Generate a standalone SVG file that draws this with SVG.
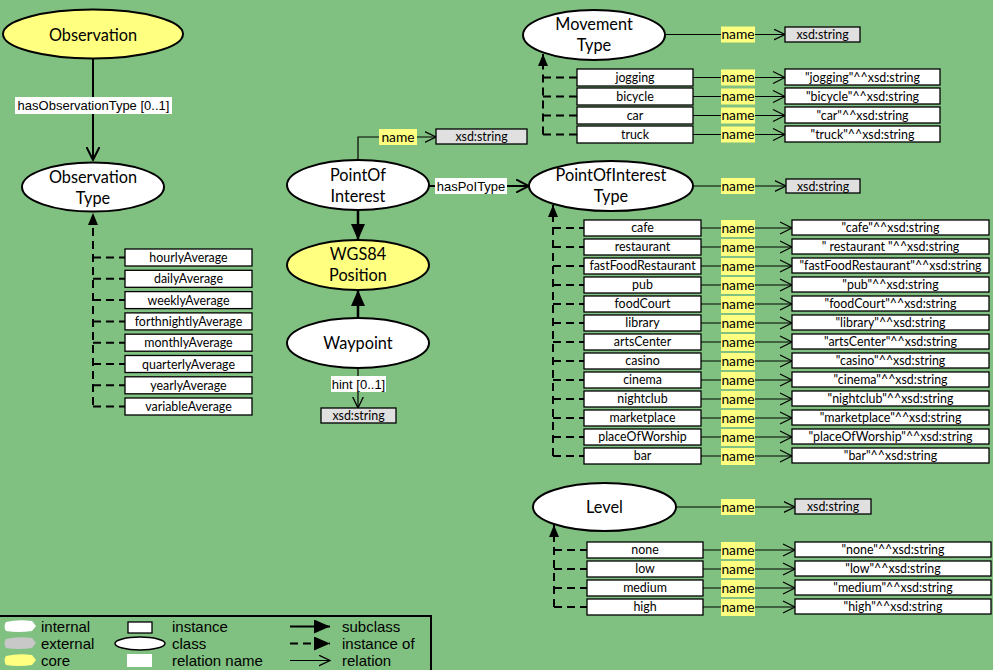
<svg xmlns="http://www.w3.org/2000/svg" width="993" height="670" viewBox="0 0 993 670">
<style>
.bg{fill:#80C080}
.cls{fill:#fff;stroke:#000;stroke-width:2}
.core{fill:#FFFF80;stroke:#000;stroke-width:2}
.inst{fill:#fff;stroke:#000;stroke-width:1.3}
.ext{fill:#E0E0E0;stroke:#000;stroke-width:1.3}
.nm{fill:#FFFF80}
.rl{fill:#fff}
.t{font-family:Lato,"Noto Sans",sans-serif;fill:#000;text-anchor:middle}
.tn{font-size:16.3px}
.ti{font-size:12.4px}
.tl{font-size:13.8px}
.ta{font-family:"Liberation Sans",Arial,sans-serif;font-size:13px;text-anchor:middle;fill:#000}
.lg{font-family:"Liberation Sans",Arial,sans-serif;font-size:15px;fill:#000}
.rel{fill:none;stroke:#000;stroke-width:1.2}
.relb{fill:none;stroke:#000;stroke-width:2}
.sub{fill:none;stroke:#000;stroke-width:2.5}
.io{fill:none;stroke:#000;stroke-width:2;stroke-dasharray:8 5}
</style>
<defs>
<marker id="open" viewBox="0 0 12 12" refX="11.5" refY="6" markerWidth="12" markerHeight="12" markerUnits="userSpaceOnUse" orient="auto"><path d="M0,0.5 L11.5,6 L0,11.5" fill="none" stroke="#000" stroke-width="1.3"/></marker>
<marker id="openb" viewBox="0 0 14 14" refX="13" refY="7" markerWidth="14" markerHeight="14" markerUnits="userSpaceOnUse" orient="auto"><path d="M0,0.5 L13,7 L0,13.5" fill="none" stroke="#000" stroke-width="2"/></marker>
<marker id="fill" viewBox="0 0 16 14" refX="16" refY="7" markerWidth="16" markerHeight="14" markerUnits="userSpaceOnUse" orient="auto"><path d="M0,0 L16,7 L0,14 Z" fill="#000"/></marker>
<marker id="fills" viewBox="0 0 12 10" refX="12" refY="5" markerWidth="12" markerHeight="10" markerUnits="userSpaceOnUse" orient="auto"><path d="M0,0 L12,5 L0,10 Z" fill="#000"/></marker>
</defs>
<rect class="bg" x="0" y="0" width="993" height="670"/>

<g id="connectors">
<path class="relb" d="M93,59 V160" marker-end="url(#openb)"/>
<path class="io" d="M93,405 V213" marker-end="url(#fills)"/>
<path class="io" d="M93,257.5 H125 M93,278.8 H125 M93,300.1 H125 M93,321.4 H125 M93,342.7 H125 M93,364 H125 M93,385.3 H125 M93,406.5 H125"/>
<path class="rel" d="M358,160 V137 H436" marker-end="url(#open)"/>
<path class="relb" d="M429,186 H529" marker-end="url(#openb)"/>
<path class="sub" d="M358,210 V240" marker-end="url(#fill)"/>
<path class="sub" d="M358,318 V290" marker-end="url(#fill)"/>
<path class="rel" d="M358,368 V408" marker-end="url(#open)"/>
<path class="rel" d="M665,34.5 H785" marker-end="url(#open)"/>
<path class="io" d="M543,134.5 V54" marker-end="url(#fills)"/>
<path class="io" d="M543,77.5 H577 M543,96.5 H577 M543,115.5 H577 M543,134.5 H577"/>
<path class="rel" d="M693,77.5 H785 M693,96.5 H785 M693,115.5 H785 M693,134.5 H785"/>
<path class="rel" d="M773,71.5 L785,77.5 L773,83.5 M773,90.5 L785,96.5 L773,102.5 M773,109.5 L785,115.5 L773,121.5 M773,128.5 L785,134.5 L773,140.5"/>
<path class="rel" d="M693,186 H786" marker-end="url(#open)"/>
<path class="io" d="M553,456 V205" marker-end="url(#fills)"/>
<path class="io" d="M553,228 H584 M553,247 H584 M553,266 H584 M553,285 H584 M553,304 H584 M553,323 H584 M553,342 H584 M553,361 H584 M553,380 H584 M553,399 H584 M553,418 H584 M553,437 H584 M553,456 H584"/>
<path class="rel" d="M701,228 H792 M701,247 H792 M701,266 H792 M701,285 H792 M701,304 H792 M701,323 H792 M701,342 H792 M701,361 H792 M701,380 H792 M701,399 H792 M701,418 H792 M701,437 H792 M701,456 H792"/>
<path class="rel" d="M780,222 L792,228 L780,234 M780,241 L792,247 L780,253 M780,260 L792,266 L780,272 M780,279 L792,285 L780,291 M780,298 L792,304 L780,310 M780,317 L792,323 L780,329 M780,336 L792,342 L780,348 M780,355 L792,361 L780,367 M780,374 L792,380 L780,386 M780,393 L792,399 L780,405 M780,412 L792,418 L780,424 M780,431 L792,437 L780,443 M780,450 L792,456 L780,462"/>
<path class="rel" d="M676,507 H795" marker-end="url(#open)"/>
<path class="io" d="M554,607 V525" marker-end="url(#fills)"/>
<path class="io" d="M554,550 H587 M554,569 H587 M554,588 H587 M554,607 H587"/>
<path class="rel" d="M703,550 H795 M703,569 H795 M703,588 H795 M703,607 H795"/>
<path class="rel" d="M783,544 L795,550 L783,556 M783,563 L795,569 L783,575 M783,582 L795,588 L783,594 M783,601 L795,607 L783,613"/>
</g>

<g id="labels">
<rect class="rl" x="15" y="97" width="157" height="17"/>
<text class="ta" x="93.5" y="110">hasObservationType [0..1]</text>
<rect class="rl" x="435" y="178" width="72" height="16"/>
<text class="ta" x="471" y="190.5">hasPoIType</text>
<rect class="rl" x="331" y="376" width="55" height="16"/>
<text class="ta" x="358.5" y="388.5">hint [0..1]</text>
<rect class="nm" x="379" y="129" width="38" height="16"/>
<text class="t tl" x="398" y="141.5">name</text>
<g id="nmlabels">
<rect class="nm" x="721" y="26.5" width="34" height="16"/><text class="t tl" x="738" y="39">name</text>
<rect class="nm" x="721" y="178" width="34" height="16"/><text class="t tl" x="738" y="190.5">name</text>
<rect class="nm" x="721" y="499" width="34" height="16"/><text class="t tl" x="738" y="511.5">name</text>
</g>
</g>

<g id="Observation"><ellipse class="core" cx="93" cy="34" rx="90" ry="24.5"/><text class="t tn" x="93" y="40.5">Observation</text></g>
<g id="ObservationType"><ellipse class="cls" cx="93" cy="187" rx="71" ry="24.5"/><text class="t tn" x="93" y="183">Observation</text><text class="t tn" x="93" y="204">Type</text></g>
<g id="ObservationTypeInstances">
<rect class="inst" x="125" y="249" width="127" height="17"/><text class="t ti" x="188.5" y="262">hourlyAverage</text>
<rect class="inst" x="125" y="270.3" width="127" height="17"/><text class="t ti" x="188.5" y="283.3">dailyAverage</text>
<rect class="inst" x="125" y="291.6" width="127" height="17"/><text class="t ti" x="188.5" y="304.6">weeklyAverage</text>
<rect class="inst" x="125" y="312.9" width="127" height="17"/><text class="t ti" x="188.5" y="325.9">forthnightlyAverage</text>
<rect class="inst" x="125" y="334.2" width="127" height="17"/><text class="t ti" x="188.5" y="347.2">monthlyAverage</text>
<rect class="inst" x="125" y="355.5" width="127" height="17"/><text class="t ti" x="188.5" y="368.5">quarterlyAverage</text>
<rect class="inst" x="125" y="376.8" width="127" height="17"/><text class="t ti" x="188.5" y="389.8">yearlyAverage</text>
<rect class="inst" x="125" y="398" width="127" height="17"/><text class="t ti" x="188.5" y="411">variableAverage</text>
</g>

<g id="PointOfInterest"><ellipse class="cls" cx="358" cy="185" rx="71" ry="25"/><text class="t tn" x="358" y="181">PointOf</text><text class="t tn" x="358" y="202">Interest</text></g>
<g id="PoIName"><rect class="ext" x="436" y="129" width="91" height="15"/><text class="t ti" x="481.5" y="141">xsd:string</text></g>
<g id="WGS84Position"><ellipse class="core" cx="358" cy="265" rx="71" ry="25"/><text class="t tn" x="358" y="260">WGS84</text><text class="t tn" x="358" y="281">Position</text></g>
<g id="Waypoint"><ellipse class="cls" cx="358" cy="343" rx="71" ry="25"/><text class="t tn" x="358" y="348.5">Waypoint</text></g>
<g id="WaypointHint"><rect class="ext" x="321" y="408" width="75" height="15"/><text class="t ti" x="358.5" y="420">xsd:string</text></g>

<g id="MovementType"><ellipse class="cls" cx="594" cy="35" rx="71" ry="25"/><text class="t tn" x="594" y="30">Movement</text><text class="t tn" x="594" y="51">Type</text>
<rect class="ext" x="785" y="27" width="75" height="15"/><text class="t ti" x="822.5" y="39">xsd:string</text></g>
<g id="MovementTypeInstances">
<rect class="inst" x="577" y="69" width="116" height="17"/><text class="t ti" x="635" y="82">jogging</text>
<rect class="inst" x="577" y="88" width="116" height="17"/><text class="t ti" x="635" y="101">bicycle</text>
<rect class="inst" x="577" y="107" width="116" height="17"/><text class="t ti" x="635" y="120">car</text>
<rect class="inst" x="577" y="126" width="116" height="17"/><text class="t ti" x="635" y="139">truck</text>
<rect class="nm" x="721" y="69.5" width="34" height="16"/><text class="t tl" x="738" y="82">name</text>
<rect class="nm" x="721" y="88.5" width="34" height="16"/><text class="t tl" x="738" y="101">name</text>
<rect class="nm" x="721" y="107.5" width="34" height="16"/><text class="t tl" x="738" y="120">name</text>
<rect class="nm" x="721" y="126.5" width="34" height="16"/><text class="t tl" x="738" y="139">name</text>
<rect class="inst" x="785" y="69" width="155" height="16"/><text class="t ti" x="862.5" y="81.5">"jogging"^^xsd:string</text>
<rect class="inst" x="785" y="88" width="155" height="16"/><text class="t ti" x="862.5" y="100.5">"bicycle"^^xsd:string</text>
<rect class="inst" x="785" y="107" width="155" height="16"/><text class="t ti" x="862.5" y="119.5">"car"^^xsd:string</text>
<rect class="inst" x="785" y="126" width="155" height="16"/><text class="t ti" x="862.5" y="138.5">"truck"^^xsd:string</text>
</g>

<g id="PointOfInterestType"><ellipse class="cls" cx="611" cy="186" rx="82" ry="25"/><text class="t tn" x="611" y="181">PointOfInterest</text><text class="t tn" x="611" y="202">Type</text>
<rect class="ext" x="786" y="179" width="74" height="14"/><text class="t ti" x="823" y="190.5">xsd:string</text></g>
<g id="PointOfInterestTypeInstances">
<rect class="inst" x="584" y="220" width="117" height="16"/><text class="t ti" x="642.5" y="232">cafe</text>
<rect class="inst" x="584" y="239" width="117" height="16"/><text class="t ti" x="642.5" y="251">restaurant</text>
<rect class="inst" x="584" y="258" width="117" height="16"/><text class="t ti" x="642.5" y="270">fastFoodRestaurant</text>
<rect class="inst" x="584" y="277" width="117" height="16"/><text class="t ti" x="642.5" y="289">pub</text>
<rect class="inst" x="584" y="296" width="117" height="16"/><text class="t ti" x="642.5" y="308">foodCourt</text>
<rect class="inst" x="584" y="315" width="117" height="16"/><text class="t ti" x="642.5" y="327">library</text>
<rect class="inst" x="584" y="334" width="117" height="16"/><text class="t ti" x="642.5" y="346">artsCenter</text>
<rect class="inst" x="584" y="353" width="117" height="16"/><text class="t ti" x="642.5" y="365">casino</text>
<rect class="inst" x="584" y="372" width="117" height="16"/><text class="t ti" x="642.5" y="384">cinema</text>
<rect class="inst" x="584" y="391" width="117" height="16"/><text class="t ti" x="642.5" y="403">nightclub</text>
<rect class="inst" x="584" y="410" width="117" height="16"/><text class="t ti" x="642.5" y="422">marketplace</text>
<rect class="inst" x="584" y="429" width="117" height="16"/><text class="t ti" x="642.5" y="441">placeOfWorship</text>
<rect class="inst" x="584" y="448" width="117" height="16"/><text class="t ti" x="642.5" y="460">bar</text>
<rect class="nm" x="721" y="220" width="34" height="17"/><text class="t tl" x="738" y="233">name</text>
<rect class="nm" x="721" y="239" width="34" height="17"/><text class="t tl" x="738" y="252">name</text>
<rect class="nm" x="721" y="258" width="34" height="17"/><text class="t tl" x="738" y="271">name</text>
<rect class="nm" x="721" y="277" width="34" height="17"/><text class="t tl" x="738" y="290">name</text>
<rect class="nm" x="721" y="296" width="34" height="17"/><text class="t tl" x="738" y="309">name</text>
<rect class="nm" x="721" y="315" width="34" height="17"/><text class="t tl" x="738" y="328">name</text>
<rect class="nm" x="721" y="334" width="34" height="17"/><text class="t tl" x="738" y="347">name</text>
<rect class="nm" x="721" y="353" width="34" height="17"/><text class="t tl" x="738" y="366">name</text>
<rect class="nm" x="721" y="372" width="34" height="17"/><text class="t tl" x="738" y="385">name</text>
<rect class="nm" x="721" y="391" width="34" height="17"/><text class="t tl" x="738" y="404">name</text>
<rect class="nm" x="721" y="410" width="34" height="17"/><text class="t tl" x="738" y="423">name</text>
<rect class="nm" x="721" y="429" width="34" height="17"/><text class="t tl" x="738" y="442">name</text>
<rect class="nm" x="721" y="448" width="34" height="17"/><text class="t tl" x="738" y="461">name</text>
<rect class="inst" x="792" y="220" width="197" height="15"/><text class="t ti" x="890.5" y="232">"cafe"^^xsd:string</text>
<rect class="inst" x="792" y="239" width="197" height="15"/><text class="t ti" x="890.5" y="251">" restaurant "^^xsd:string</text>
<rect class="inst" x="792" y="258" width="197" height="15"/><text class="t ti" x="890.5" y="270">"fastFoodRestaurant"^^xsd:string</text>
<rect class="inst" x="792" y="277" width="197" height="15"/><text class="t ti" x="890.5" y="289">"pub"^^xsd:string</text>
<rect class="inst" x="792" y="296" width="197" height="15"/><text class="t ti" x="890.5" y="308">"foodCourt"^^xsd:string</text>
<rect class="inst" x="792" y="315" width="197" height="15"/><text class="t ti" x="890.5" y="327">"library"^^xsd:string</text>
<rect class="inst" x="792" y="334" width="197" height="15"/><text class="t ti" x="890.5" y="346">"artsCenter"^^xsd:string</text>
<rect class="inst" x="792" y="353" width="197" height="15"/><text class="t ti" x="890.5" y="365">"casino"^^xsd:string</text>
<rect class="inst" x="792" y="372" width="197" height="15"/><text class="t ti" x="890.5" y="384">"cinema"^^xsd:string</text>
<rect class="inst" x="792" y="391" width="197" height="15"/><text class="t ti" x="890.5" y="403">"nightclub"^^xsd:string</text>
<rect class="inst" x="792" y="410" width="197" height="15"/><text class="t ti" x="890.5" y="422">"marketplace"^^xsd:string</text>
<rect class="inst" x="792" y="429" width="197" height="15"/><text class="t ti" x="890.5" y="441">"placeOfWorship"^^xsd:string</text>
<rect class="inst" x="792" y="448" width="197" height="15"/><text class="t ti" x="890.5" y="460">"bar"^^xsd:string</text>
</g>

<g id="Level"><ellipse class="cls" cx="604.5" cy="507" rx="71.5" ry="24"/><text class="t tn" x="604.5" y="512.5">Level</text>
<rect class="ext" x="795" y="499" width="76" height="15"/><text class="t ti" x="833" y="511">xsd:string</text></g>
<g id="LevelInstances">
<rect class="inst" x="587" y="542" width="116" height="16"/><text class="t ti" x="645" y="554">none</text>
<rect class="inst" x="587" y="561" width="116" height="16"/><text class="t ti" x="645" y="573">low</text>
<rect class="inst" x="587" y="580" width="116" height="16"/><text class="t ti" x="645" y="592">medium</text>
<rect class="inst" x="587" y="599" width="116" height="16"/><text class="t ti" x="645" y="611">high</text>
<rect class="nm" x="721" y="542" width="34" height="17"/><text class="t tl" x="738" y="555">name</text>
<rect class="nm" x="721" y="561" width="34" height="17"/><text class="t tl" x="738" y="574">name</text>
<rect class="nm" x="721" y="580" width="34" height="17"/><text class="t tl" x="738" y="593">name</text>
<rect class="nm" x="721" y="599" width="34" height="17"/><text class="t tl" x="738" y="612">name</text>
<rect class="inst" x="795" y="542" width="196" height="15"/><text class="t ti" x="893" y="554">"none"^^xsd:string</text>
<rect class="inst" x="795" y="561" width="196" height="15"/><text class="t ti" x="893" y="573">"low"^^xsd:string</text>
<rect class="inst" x="795" y="580" width="196" height="15"/><text class="t ti" x="893" y="592">"medium"^^xsd:string</text>
<rect class="inst" x="795" y="599" width="196" height="15"/><text class="t ti" x="893" y="611">"high"^^xsd:string</text>
</g>

<g id="legend">
<rect x="-2" y="616" width="433" height="60" fill="#80C080" stroke="#000" stroke-width="2"/>
<path d="M6,622 Q18,619 32,621 L36,626 L32,631 Q18,633 6,631 Q3,626 6,622 Z" fill="#fff"/>
<path d="M6,639 Q18,636 32,638 L36,643 L32,648 Q18,650 6,648 Q3,643 6,639 Z" fill="#C8C8C8"/>
<path d="M6,656 Q18,653 32,655 L36,660 L32,665 Q18,667 6,665 Q3,660 6,656 Z" fill="#FFFF80"/>
<text class="lg" x="41" y="632">internal</text>
<text class="lg" x="41" y="649">external</text>
<text class="lg" x="41" y="666">core</text>
<rect x="128" y="622" width="24" height="11" fill="#fff" stroke="#000" stroke-width="1.3"/>
<ellipse cx="140" cy="643.5" rx="25" ry="6.5" fill="#fff" stroke="#000" stroke-width="1.5"/>
<rect x="127" y="654" width="25" height="13" fill="#fff"/>
<text class="lg" x="172" y="632">instance</text>
<text class="lg" x="172" y="649">class</text>
<text class="lg" x="172" y="666">relation name</text>
<path d="M290,626.5 H330" class="relb" marker-end="url(#fill)"/>
<path d="M290,643.5 H330" class="io" stroke-dasharray="7 5" marker-end="url(#fill)"/>
<path d="M290,660.5 H330" class="rel" marker-end="url(#open)"/>
<text class="lg" x="342" y="632">subclass</text>
<text class="lg" x="342" y="649">instance of</text>
<text class="lg" x="342" y="666">relation</text>
</g>
</svg>
